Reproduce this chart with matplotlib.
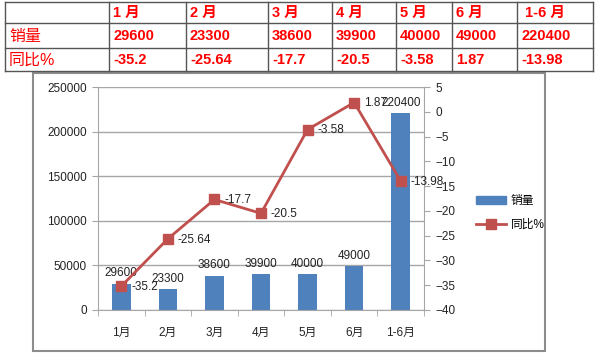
import numpy as np
import matplotlib
matplotlib.use('Agg')
from matplotlib import pyplot as plt
from matplotlib.lines import Line2D
from matplotlib.patches import Rectangle, Patch

plt.rcParams['font.family'] = ['Liberation Sans', 'Noto Sans CJK SC']

months = ['1月', '2月', '3月', '4月', '5月', '6月', '1-6月']
table_heads = ['1 月', '2 月', '3 月', '4 月', '5 月', '6 月', ' 1-6 月']
sales = [29600, 23300, 38600, 39900, 40000, 49000, 220400]
yoy = [-35.2, -25.64, -17.7, -20.5, -3.58, 1.87, -13.98]
yoy_text = ['-35.2', '-25.64', '-17.7', '-20.5', '-3.58', '1.87', '-13.98']

bar_color = '#4F81BD'
line_color = '#C0504D'
grid_color = '#A6A6A6'

fig = plt.figure(figsize=(6, 3.56), dpi=100)

# background layer in pixel coords: table + chart frame
bg = fig.add_axes([0, 0, 1, 1])
bg.set_xlim(0, 600)
bg.set_ylim(356, 0)
bg.axis('off')

col_x = [5, 109, 186, 268, 332, 396, 452, 517, 593]
row_y = [2, 23, 48, 71]
for x in col_x:
    bg.plot([x, x], [row_y[0], row_y[-1]], color='#555555', lw=1)
for y in row_y:
    bg.plot([col_x[0], col_x[-1]], [y, y], color='#555555', lw=1)

rows = [[''] + table_heads,
        ['销量'] + [str(v) for v in sales],
        ['同比%'] + yoy_text]
for r, row in enumerate(rows):
    yc = (row_y[r] + row_y[r + 1]) / 2
    for c, txt in enumerate(row):
        size = 11.5 if c == 0 else 10.5
        bg.text(col_x[c] + 4, yc + 0.5, txt, color='#FF0000', fontsize=size,
                fontweight='bold' if c > 0 else 'normal', ha='left', va='center')

bg.add_patch(Rectangle((33, 73), 512, 278, fill=False, ec='#8C8C8C', lw=1.5))

# chart
ax = fig.add_axes([98 / 600, 1 - 310 / 356, 326 / 600, 223 / 356])
ax.set_facecolor('none')
x = np.arange(len(months))
bars = ax.bar(x, sales, width=0.4, color=bar_color, zorder=2)
ax.bar_label(bars, labels=[str(v) for v in sales], padding=3, fontsize=8.5, color='#222222')
ax.set_xlim(-0.5, len(months) - 0.5)
ax.set_ylim(0, 250000)
ax.set_yticks(np.arange(0, 250001, 50000))
ax.yaxis.grid(True, color=grid_color, lw=1)
ax.set_axisbelow(True)
ax.set_xticks(x)
ax.set_xticklabels(months)
ax.set_xticks(np.arange(-0.5, len(months), 1), minor=True)
ax.tick_params(axis='x', which='major', length=0, pad=12, labelsize=8.5, labelcolor='#222222')
ax.tick_params(axis='x', which='minor', length=4, color=grid_color)
ax.tick_params(axis='y', length=4, color=grid_color, labelsize=8.5, labelcolor='#222222', pad=4)
for s in ['top', 'right']:
    ax.spines[s].set_visible(False)
ax.spines['left'].set_color(grid_color)
ax.spines['bottom'].set_color(grid_color)

ax2 = ax.twinx()
ax2.plot(x, yoy, color=line_color, lw=2, marker='s', markersize=7, zorder=3)
ax2.set_ylim(-40, 5)
ax2.set_yticks(np.arange(-40, 6, 5))
ax2.tick_params(axis='y', length=4, color=grid_color, labelsize=8.5, labelcolor='#222222', pad=4)
for s in ['top', 'left', 'bottom']:
    ax2.spines[s].set_visible(False)
ax2.spines['right'].set_color(grid_color)
for xi, yi, t in zip(x, yoy, yoy_text):
    ax2.annotate(t, (xi, yi), xytext=(7, -0.5), textcoords='offset points',
                 ha='left', va='center', fontsize=8.5, color='#222222')

handles = [Patch(color=bar_color),
           Line2D([0], [0], color=line_color, lw=2, marker='s', markersize=7)]
fig.legend(handles, ['销量', '同比%'], loc='center left', bbox_to_anchor=(465 / 600, 1 - 213 / 356),
           frameon=False, fontsize=8.5, handlelength=2.6, labelspacing=1.0, handletextpad=0.4,
           handleheight=0.6)

fig.savefig('out.png', dpi=100)
